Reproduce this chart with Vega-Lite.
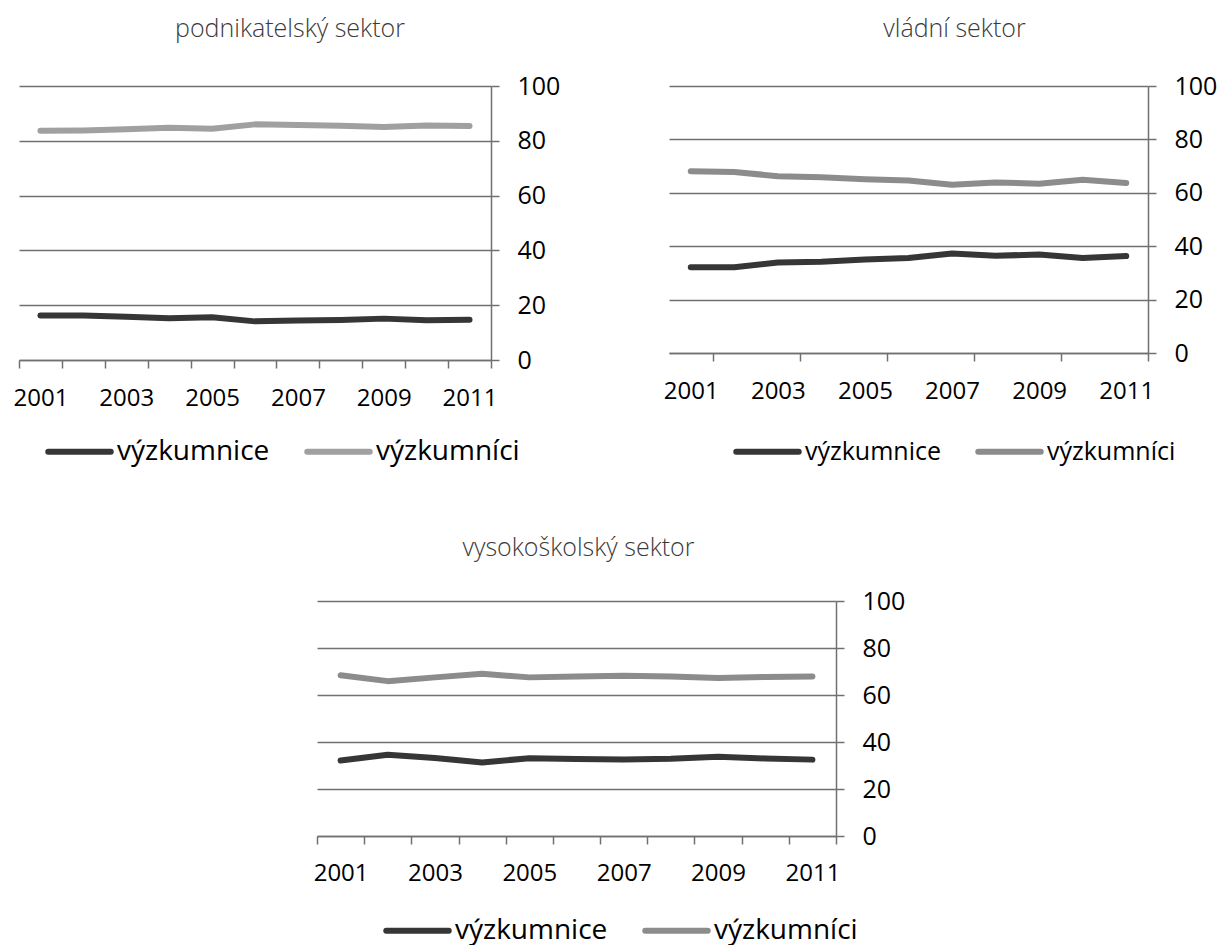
{
  "$schema": "https://vega.github.io/schema/vega-lite/v6.json",
  "background": "white",
  "padding": {"left": 13, "top": 17, "right": 5, "bottom": 5},
  "config": {
    "view": {"stroke": null},
    "font": "Open Sans",
    "axis": {"labelFont": "Open Sans", "labelColor": "#000000", "domainColor": "#707070", "tickColor": "#707070", "gridColor": "#707070", "domainWidth": 1.5, "tickWidth": 1.5, "gridWidth": 1.5, "title": null},
    "axisX": {"grid": false},
    "legend": {"orient": "none", "direction": "horizontal", "title": null, "symbolType": "stroke", "symbolSize": 3900, "symbolStrokeWidth": 6, "labelFont": "Open Sans", "labelColor": "#000000", "labelFontSize": 28, "columnPadding": 25, "labelOffset": 3, "padding": 0},
    "title": {"font": "Open Sans", "fontWeight": 300, "fontSize": 25, "color": "#3a3a3a", "offset": 32}
  },
  "datasets": {
    "podnikatelsky": [
      {"rok": 2001, "skupina": "výzkumnice", "podil": 16.2}, {"rok": 2002, "skupina": "výzkumnice", "podil": 16.2},
      {"rok": 2003, "skupina": "výzkumnice", "podil": 15.8}, {"rok": 2004, "skupina": "výzkumnice", "podil": 15.2},
      {"rok": 2005, "skupina": "výzkumnice", "podil": 15.6}, {"rok": 2006, "skupina": "výzkumnice", "podil": 14.1},
      {"rok": 2007, "skupina": "výzkumnice", "podil": 14.4}, {"rok": 2008, "skupina": "výzkumnice", "podil": 14.6},
      {"rok": 2009, "skupina": "výzkumnice", "podil": 15.1}, {"rok": 2010, "skupina": "výzkumnice", "podil": 14.5},
      {"rok": 2011, "skupina": "výzkumnice", "podil": 14.7},
      {"rok": 2001, "skupina": "výzkumníci", "podil": 83.7}, {"rok": 2002, "skupina": "výzkumníci", "podil": 83.8},
      {"rok": 2003, "skupina": "výzkumníci", "podil": 84.2}, {"rok": 2004, "skupina": "výzkumníci", "podil": 84.8},
      {"rok": 2005, "skupina": "výzkumníci", "podil": 84.4}, {"rok": 2006, "skupina": "výzkumníci", "podil": 86.0},
      {"rok": 2007, "skupina": "výzkumníci", "podil": 85.8}, {"rok": 2008, "skupina": "výzkumníci", "podil": 85.5},
      {"rok": 2009, "skupina": "výzkumníci", "podil": 85.0}, {"rok": 2010, "skupina": "výzkumníci", "podil": 85.6},
      {"rok": 2011, "skupina": "výzkumníci", "podil": 85.4}
    ],
    "vladni": [
      {"rok": 2001, "skupina": "výzkumnice", "podil": 32.1}, {"rok": 2002, "skupina": "výzkumnice", "podil": 32.1},
      {"rok": 2003, "skupina": "výzkumnice", "podil": 33.9}, {"rok": 2004, "skupina": "výzkumnice", "podil": 34.2},
      {"rok": 2005, "skupina": "výzkumnice", "podil": 35.0}, {"rok": 2006, "skupina": "výzkumnice", "podil": 35.6},
      {"rok": 2007, "skupina": "výzkumnice", "podil": 37.3}, {"rok": 2008, "skupina": "výzkumnice", "podil": 36.4},
      {"rok": 2009, "skupina": "výzkumnice", "podil": 36.9}, {"rok": 2010, "skupina": "výzkumnice", "podil": 35.6},
      {"rok": 2011, "skupina": "výzkumnice", "podil": 36.3},
      {"rok": 2001, "skupina": "výzkumníci", "podil": 68.1}, {"rok": 2002, "skupina": "výzkumníci", "podil": 67.8},
      {"rok": 2003, "skupina": "výzkumníci", "podil": 66.2}, {"rok": 2004, "skupina": "výzkumníci", "podil": 65.8},
      {"rok": 2005, "skupina": "výzkumníci", "podil": 65.1}, {"rok": 2006, "skupina": "výzkumníci", "podil": 64.6},
      {"rok": 2007, "skupina": "výzkumníci", "podil": 63.0}, {"rok": 2008, "skupina": "výzkumníci", "podil": 63.9},
      {"rok": 2009, "skupina": "výzkumníci", "podil": 63.4}, {"rok": 2010, "skupina": "výzkumníci", "podil": 64.9},
      {"rok": 2011, "skupina": "výzkumníci", "podil": 63.7}
    ],
    "vysokoskolsky": [
      {"rok": 2001, "skupina": "výzkumnice", "podil": 32.1}, {"rok": 2002, "skupina": "výzkumnice", "podil": 34.6},
      {"rok": 2003, "skupina": "výzkumnice", "podil": 33.2}, {"rok": 2004, "skupina": "výzkumnice", "podil": 31.3},
      {"rok": 2005, "skupina": "výzkumnice", "podil": 33.1}, {"rok": 2006, "skupina": "výzkumnice", "podil": 32.8},
      {"rok": 2007, "skupina": "výzkumnice", "podil": 32.6}, {"rok": 2008, "skupina": "výzkumnice", "podil": 32.9},
      {"rok": 2009, "skupina": "výzkumnice", "podil": 33.7}, {"rok": 2010, "skupina": "výzkumnice", "podil": 33.0},
      {"rok": 2011, "skupina": "výzkumnice", "podil": 32.5},
      {"rok": 2001, "skupina": "výzkumníci", "podil": 68.4}, {"rok": 2002, "skupina": "výzkumníci", "podil": 65.9},
      {"rok": 2003, "skupina": "výzkumníci", "podil": 67.5}, {"rok": 2004, "skupina": "výzkumníci", "podil": 69.0},
      {"rok": 2005, "skupina": "výzkumníci", "podil": 67.5}, {"rok": 2006, "skupina": "výzkumníci", "podil": 67.9},
      {"rok": 2007, "skupina": "výzkumníci", "podil": 68.2}, {"rok": 2008, "skupina": "výzkumníci", "podil": 67.9},
      {"rok": 2009, "skupina": "výzkumníci", "podil": 67.2}, {"rok": 2010, "skupina": "výzkumníci", "podil": 67.7},
      {"rok": 2011, "skupina": "výzkumníci", "podil": 67.9}
    ]
  },
  "spacing": 70,
  "vconcat": [
    {
      "spacing": 178,
      "bounds": "flush",
      "hconcat": [
        {
          "title": {"text": "podnikatelský sektor", "dx": 35},
          "width": 472, "height": 274,
          "data": {"name": "podnikatelsky"},
          "mark": {"type": "line", "strokeWidth": 6, "strokeCap": "round", "strokeJoin": "round"},
          "encoding": {
            "x": {"field": "rok", "type": "quantitative", "scale": {"domain": [2000.5, 2011.5], "nice": false, "zero": false},
              "axis": {"values": [2000.5, 2001, 2001.5, 2002, 2002.5, 2003, 2003.5, 2004, 2004.5, 2005, 2005.5, 2006, 2006.5, 2007, 2007.5, 2008, 2008.5, 2009, 2009.5, 2010, 2010.5, 2011, 2011.5],
                "labelExpr": "datum.value % 2 == 1 ? format(datum.value, 'd') : ''", "labelOverlap": false, "labelFontSize": 24, "labelPadding": 18, "tickSize": 8,
                "tickOpacity": {"condition": {"test": "datum.value % 1 != 0", "value": 1}, "value": 0}}},
            "y": {"field": "podil", "type": "quantitative", "scale": {"domain": [0, 100]},
              "axis": {"orient": "right", "values": [0, 20, 40, 60, 80, 100], "grid": true, "labelFontSize": 25, "labelPadding": 18, "tickSize": 8}},
            "color": {"field": "skupina", "type": "nominal", "scale": {"domain": ["výzkumnice", "výzkumníci"], "range": ["#363636", "#a0a0a0"]},
              "legend": {"legendX": 26, "legendY": 331, "encode": {"symbols": {"update": {"strokeCap": {"value": "round"}}}}}}
          }
        },
        {
          "title": {"text": "vládní sektor", "dx": 46},
          "width": 479, "height": 267,
          "data": {"name": "vladni"},
          "mark": {"type": "line", "strokeWidth": 6, "strokeCap": "round", "strokeJoin": "round"},
          "encoding": {
            "x": {"field": "rok", "type": "quantitative", "scale": {"domain": [2000.5, 2011.5], "nice": false, "zero": false},
              "axis": {"values": [2001, 2001.5, 2003, 2003.5, 2005, 2005.5, 2007, 2007.5, 2009, 2009.5, 2011, 2011.5],
                "labelExpr": "datum.value % 2 == 1 ? format(datum.value, 'd') : ''", "labelOverlap": false, "labelFontSize": 24, "labelPadding": 18, "tickSize": 8,
                "tickOpacity": {"condition": {"test": "datum.value % 1 != 0", "value": 1}, "value": 0}}},
            "y": {"field": "podil", "type": "quantitative", "scale": {"domain": [0, 100]},
              "axis": {"orient": "right", "values": [0, 20, 40, 60, 80, 100], "grid": true, "labelFontSize": 25, "labelPadding": 18, "tickSize": 8}},
            "color": {"field": "skupina", "type": "nominal", "scale": {"domain": ["výzkumnice", "výzkumníci"], "range": ["#363636", "#8c8c8c"]},
              "legend": {"legendX": 64, "legendY": 331, "labelFontSize": 25, "encode": {"symbols": {"update": {"strokeCap": {"value": "round"}}}}}}
          }
        }
      ],
      "resolve": {"scale": {"color": "independent"}, "legend": {"color": "independent"}}
    },
    {
      "spacing": 288,
      "bounds": "flush",
      "hconcat": [
        {
          "width": 10, "height": 10,
          "view": {"fill": "#ffffff", "stroke": null},
          "data": {"values": []},
          "mark": {"type": "point"},
          "encoding": {}
        },
        {
          "title": {"text": "vysokoškolský sektor", "dx": 2, "offset": 28},
          "width": 519, "height": 235,
          "data": {"name": "vysokoskolsky"},
          "mark": {"type": "line", "strokeWidth": 6, "strokeCap": "round", "strokeJoin": "round"},
          "encoding": {
            "x": {"field": "rok", "type": "quantitative", "scale": {"domain": [2000.5, 2011.5], "nice": false, "zero": false},
              "axis": {"values": [2000.5, 2001, 2001.5, 2002, 2002.5, 2003, 2003.5, 2004, 2004.5, 2005, 2005.5, 2006, 2006.5, 2007, 2007.5, 2008, 2008.5, 2009, 2009.5, 2010, 2010.5, 2011, 2011.5],
                "labelExpr": "datum.value % 2 == 1 ? format(datum.value, 'd') : ''", "labelOverlap": false, "labelFontSize": 24, "labelPadding": 17, "tickSize": 8,
                "tickOpacity": {"condition": {"test": "datum.value % 1 != 0", "value": 1}, "value": 0}}},
            "y": {"field": "podil", "type": "quantitative", "scale": {"domain": [0, 100]},
              "axis": {"orient": "right", "values": [0, 20, 40, 60, 80, 100], "grid": true, "labelFontSize": 25, "labelPadding": 18, "tickSize": 8}},
            "color": {"field": "skupina", "type": "nominal", "scale": {"domain": ["výzkumnice", "výzkumníci"], "range": ["#363636", "#8c8c8c"]},
              "legend": {"legendX": 66, "legendY": 295, "encode": {"symbols": {"update": {"strokeCap": {"value": "round"}}}}}}
          }
        }
      ],
      "resolve": {"scale": {"color": "independent"}, "legend": {"color": "independent"}}
    }
  ],
  "resolve": {"scale": {"color": "independent"}, "legend": {"color": "independent"}}
}
